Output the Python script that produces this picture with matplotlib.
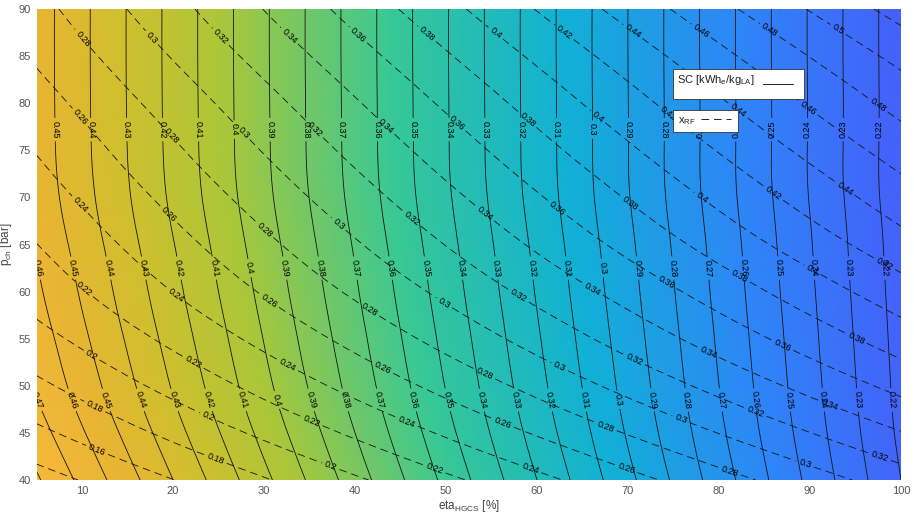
import numpy as np
import matplotlib
matplotlib.use("Agg")
import matplotlib.pyplot as plt
import matplotlib.tri as mtri
from matplotlib.colors import LinearSegmentedColormap, Normalize
from matplotlib.patches import Rectangle
from matplotlib.lines import Line2D

# ---------------- data ----------------
eta_grid = [5, 25, 50, 75, 100]                       # eta_HGCS [%]
p_grid = [40, 45, 50, 55, 60, 65, 70, 75, 80, 85, 90]   # p_ch [bar]

# specific consumption SC [kWh_e/kg_LA]; one row per pressure, one column per eta
sc_rows = [
    [0.4813, 0.4263, 0.3575, 0.2888, 0.2200],
    [0.4745, 0.4205, 0.3530, 0.2855, 0.2180],
    [0.4689, 0.4159, 0.3496, 0.2833, 0.2170],
    [0.4652, 0.4128, 0.3473, 0.2818, 0.2163],
    [0.4618, 0.4100, 0.3452, 0.2804, 0.2156],
    [0.4590, 0.4076, 0.3434, 0.2792, 0.2150],
    [0.4564, 0.4054, 0.3416, 0.2778, 0.2140],
    [0.4553, 0.4045, 0.3409, 0.2774, 0.2138],
    [0.4551, 0.4043, 0.3408, 0.2774, 0.2139],
    [0.4550, 0.4042, 0.3407, 0.2773, 0.2138],
    [0.4550, 0.4042, 0.3407, 0.2773, 0.2138],
]

# x_RF; one row per pressure, one column per eta
xrf_rows = [
    [0.1314, 0.1690, 0.2160, 0.2630, 0.3100],
    [0.1557, 0.1943, 0.2425, 0.2908, 0.3390],
    [0.1760, 0.2160, 0.2660, 0.3160, 0.3660],
    [0.1934, 0.2348, 0.2865, 0.3383, 0.3900],
    [0.2082, 0.2510, 0.3045, 0.3580, 0.4115],
    [0.2197, 0.2645, 0.3205, 0.3765, 0.4325],
    [0.2306, 0.2770, 0.3350, 0.3930, 0.4510],
    [0.2410, 0.2890, 0.3490, 0.4090, 0.4690],
    [0.2514, 0.3010, 0.3630, 0.4250, 0.4870],
    [0.2628, 0.3140, 0.3780, 0.4420, 0.5060],
    [0.2734, 0.3270, 0.3940, 0.4610, 0.5280],
]

sc_levels = [0.22, 0.23, 0.24, 0.25, 0.26, 0.27, 0.28, 0.29, 0.30, 0.31, 0.32,
             0.33, 0.34, 0.35, 0.36, 0.37, 0.38, 0.39, 0.40, 0.41, 0.42, 0.43,
             0.44, 0.45, 0.46, 0.47, 0.48]
xrf_levels = [0.14, 0.16, 0.18, 0.20, 0.22, 0.24, 0.26, 0.28, 0.30, 0.32, 0.34,
              0.36, 0.38, 0.40, 0.42, 0.44, 0.46, 0.48, 0.50, 0.52]

x_ticks = [10, 20, 30, 40, 50, 60, 70, 80, 90, 100]
y_ticks = [40, 45, 50, 55, 60, 65, 70, 75, 80, 85, 90]

x_label = "eta$_{HGCS}$ [%]"
y_label = "p$_{ch}$ [bar]"
legend_sc = "SC [kWh$_{e}$/kg$_{LA}$]"
legend_xrf = "x$_{RF}$"

# ---------------- style ----------------
plt.rcParams['font.family'] = ['Liberation Sans', 'DejaVu Sans']
plt.rcParams['mathtext.default'] = 'regular'
plt.rcParams['lines.scale_dashes'] = False

# parula-like colour map (MATLAB default)
parula = LinearSegmentedColormap.from_list("parula", [
    (0.000, (0.2422, 0.1504, 0.6603)),
    (0.130, (0.2700, 0.3800, 0.9800)),
    (0.250, (0.1786, 0.5289, 0.9682)),
    (0.375, (0.0689, 0.6948, 0.8394)),
    (0.500, (0.2161, 0.7843, 0.5923)),
    (0.625, (0.6720, 0.7793, 0.2227)),
    (0.700, (0.8200, 0.7500, 0.1800)),
    (0.760, (0.9100, 0.7100, 0.2000)),
    (0.830, (0.9700, 0.7250, 0.2300)),
    (0.920, (0.9700, 0.8600, 0.1500)),
    (1.000, (0.9769, 0.9839, 0.0805)),
])
norm = Normalize(vmin=0.164, vmax=0.547)

W, H = 914, 514
fig = plt.figure(figsize=(W / 100, H / 100), dpi=100)
ax = fig.add_axes([36.5 / W, 1 - 480 / H, (901 - 36.5) / W, (480 - 9) / H])
ax.set_xlim(eta_grid[0], eta_grid[-1])
ax.set_ylim(p_grid[0], p_grid[-1])

# ---------------- smooth fields via matplotlib.tri ----------------
E, P = np.meshgrid(eta_grid, p_grid)
e_span = eta_grid[-1] - eta_grid[0]
p_span = p_grid[-1] - p_grid[0]
u = (E - eta_grid[0]) / e_span
v = (P - p_grid[0]) / p_span
ny, nx = E.shape
tris = []
for j in range(ny - 1):
    for i in range(nx - 1):
        a = j * nx + i
        b, c = a + 1, a + nx
        d = c + 1
        tris += [[a, b, d], [a, d, c]]
tri_n = mtri.Triangulation(u.ravel(), v.ravel(), np.array(tris))
refiner = mtri.UniformTriRefiner(tri_n)
sc_z = np.array(sc_rows).ravel()
xr_z = np.array(xrf_rows).ravel()
rt, sc_f = refiner.refine_field(sc_z, triinterpolator=mtri.CubicTriInterpolator(tri_n, sc_z), subdiv=4)
_, xr_f = refiner.refine_field(xr_z, triinterpolator=mtri.CubicTriInterpolator(tri_n, xr_z), subdiv=4)
tri_d = mtri.Triangulation(eta_grid[0] + rt.x * e_span, p_grid[0] + rt.y * p_span, rt.triangles)

ax.tripcolor(tri_d, sc_f, shading='gouraud', cmap=parula, norm=norm, zorder=0)

line_col = '#151515'
cs_sc = ax.tricontour(tri_d, sc_f, levels=sc_levels, colors=line_col, linewidths=0.6, zorder=2)
cs_xr = ax.tricontour(tri_d, xr_f, levels=xrf_levels, colors=line_col, linewidths=0.6,
                      linestyles=[(0, (5.5, 3.5))], zorder=2)


def polys(cs):
    for path in cs.get_paths():
        for poly in path.to_polygons(closed_only=False):
            if len(poly) >= 2:
                yield np.asarray(poly)


def row_positions(cs, rows):
    pts = []
    for poly in polys(cs):
        found = False
        for pr in rows:
            yv = poly[:, 1] - pr
            idx = np.where(yv[:-1] * yv[1:] <= 0)[0]
            if len(idx):
                i = idx[0]
                t = 0 if yv[i] == yv[i + 1] else yv[i] / (yv[i] - yv[i + 1])
                pts.append((poly[i, 0] + t * (poly[i + 1, 0] - poly[i, 0]), pr))
                found = True
        if not found:
            d = ax.transData.transform(poly)
            seg = np.hypot(*np.diff(d, axis=0).T)
            if seg.sum() > 20:
                s = np.concatenate([[0], np.cumsum(seg)])
                m = s[-1] / 2
                pts.append((np.interp(m, s, poly[:, 0]), np.interp(m, s, poly[:, 1])))
    return pts


def arc_positions(cs, s0_top, s0_left, step, min_len):
    pts = []
    x_left = ax.transData.transform((eta_grid[0], p_grid[0]))[0]
    for poly in polys(cs):
        d = ax.transData.transform(poly)
        if d[0, 0] > d[-1, 0]:
            poly, d = poly[::-1], d[::-1]
        seg = np.hypot(*np.diff(d, axis=0).T)
        s = np.concatenate([[0], np.cumsum(seg)])
        if s[-1] < min_len:
            continue
        s0 = s0_left if abs(d[0, 0] - x_left) < 2 else s0_top
        for t in np.arange(s0, s[-1] - 10, step):
            pts.append((np.interp(t, s, poly[:, 0]), np.interp(t, s, poly[:, 1])))
    return pts


fmt = lambda val: f"{val:g}"
sc_pts = row_positions(cs_sc, [77.2, 62.5, 48.5])
xr_pts = arc_positions(cs_xr, 38, 66, 132, 60)
cs_sc.clabel(manual=sc_pts, inline=True, inline_spacing=3, fmt=fmt, fontsize=6.5, colors='k')
cs_xr.clabel(manual=xr_pts, inline=True, inline_spacing=3, fmt=fmt, fontsize=6.5, colors='k')

# ---------------- axes cosmetics ----------------
for sp in ax.spines.values():
    sp.set_visible(False)
ax.set_xticks(x_ticks)
ax.set_yticks(y_ticks)
ax.tick_params(length=0, labelsize=8, labelcolor='#555555')
ax.tick_params(axis='x', pad=4)
ax.tick_params(axis='y', pad=4)
ax.set_xlabel(x_label, fontsize=8.5, color='#444444', labelpad=2)
ax.set_ylabel(y_label, fontsize=8.5, color='#444444', labelpad=3)

# ---------------- legend boxes (MATLAB style, two separate boxes) ----------------
def fx(px):
    return px / W


def fy(py):
    return 1 - py / H


fig.patches.append(Rectangle((fx(673), fy(99)), fx(804) - fx(673), fy(69) - fy(99),
                             transform=fig.transFigure, facecolor='white',
                             edgecolor='#333333', linewidth=0.6, zorder=5))
fig.text(fx(677), fy(80), legend_sc, fontsize=8, color='#222222', va='center', ha='left', zorder=6)
fig.lines.append(Line2D([fx(763), fx(793)], [fy(84), fy(84)], transform=fig.transFigure,
                        color='k', linewidth=0.6, zorder=6))

fig.patches.append(Rectangle((fx(673), fy(132)), fx(738) - fx(673), fy(110) - fy(132),
                             transform=fig.transFigure, facecolor='white',
                             edgecolor='#333333', linewidth=0.6, zorder=5))
fig.text(fx(678), fy(121), legend_xrf, fontsize=8, color='#222222', va='center', ha='left', zorder=6)
fig.lines.append(Line2D([fx(701), fx(731)], [fy(119), fy(119)], transform=fig.transFigure,
                        color='k', linewidth=0.6, linestyle=(0, (5.5, 3.5)), zorder=6))

fig.savefig("out.png", dpi=100)
